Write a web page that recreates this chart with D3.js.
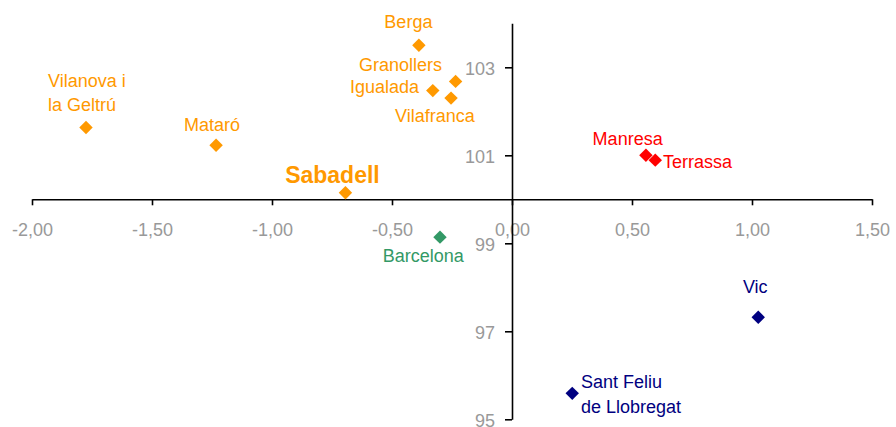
<!DOCTYPE html>
<html>
<head>
<meta charset="utf-8">
<script src="https://cdn.jsdelivr.net/npm/d3@7"></script>
<style>
  body { margin: 0; background: #fff; }
  svg { font-family: "Liberation Sans", Arial, sans-serif; }
</style>
</head>
<body>
<svg id="chart" width="896" height="427"></svg>
<script>
// values
var cities = ['Berga', 'Granollers', 'Igualada', 'Vilafranca', 'Vilanova i la Geltrú', 'Mataró', 'Sabadell',
    'Manresa', 'Terrassa', 'Barcelona', 'Vic', 'Sant Feliu de Llobregat'];
var xVals = [-0.388, -0.235, -0.330, -0.254, -1.775, -1.233, -0.694, 0.558, 0.597, -0.300, 1.026, 0.251];
var yVals = [103.50, 102.68, 102.47, 102.30, 101.63, 101.23, 100.15, 101.00, 100.89, 99.14, 97.32, 95.59];
var groups = ['a', 'a', 'a', 'a', 'a', 'a', 'a', 'b', 'b', 'c', 'd', 'd'];
var xTicks = [-2, -1.5, -1, -0.5, 0, 0.5, 1, 1.5];
var yTicks = [95, 97, 99, 101, 103];

var svg = d3.select('#chart');

var x = d3.scaleLinear().domain([-2, 1.5]).range([32, 872]);
var y = d3.scaleLinear().domain([95, 104]).range([419.3, 23.3]);

var color = d3.scaleOrdinal()
    .domain(['a', 'b', 'c', 'd'])
    .range(['#ff9900', '#ff0000', '#339966', '#000080']);

// label placement relative to each marker: [dx, dy, anchor, lines...]
var labelPos = {
    'Berga': [-10.5, -17, 'middle', ['Berga']],
    'Granollers': [-13.7, -10.6, 'end', ['Granollers']],
    'Igualada': [-13.7, 2.3, 'end', ['Igualada']],
    'Vilafranca': [-56, 24, 'start', ['Vilafranca']],
    'Vilanova i la Geltrú': [-38, -40.7, 'start', ['Vilanova i', 'la Geltrú']],
    'Mataró': [-32, -14.3, 'start', ['Mataró']],
    'Sabadell': [-60.3, -10, 'start', ['Sabadell']],
    'Manresa': [-53.3, -10.7, 'start', ['Manresa']],
    'Terrassa': [7.7, 8, 'start', ['Terrassa']],
    'Barcelona': [-57.3, 24.4, 'start', ['Barcelona']],
    'Vic': [-15.3, -24.3, 'start', ['Vic']],
    'Sant Feliu de Llobregat': [8.7, -5, 'start', ['Sant Feliu', 'de Llobregat']]
};

function fmt(d) {
    // plain hyphen and decimal comma, like the original
    return d.toFixed(2).replace('.', ',');
}

// x axis
var gx = svg.append('g')
    .attr('transform', 'translate(0,' + y(100) + ')')
    .call(d3.axisBottom(x).tickValues(xTicks).tickFormat(fmt).tickSize(6).tickSizeOuter(0).tickPadding(18));
gx.selectAll('text').attr('fill', '#999').style('font-size', '18px');
gx.selectAll('line').attr('stroke', '#000').attr('stroke-width', 1.6);
gx.select('.domain').attr('stroke', '#000').attr('stroke-width', 1.6);

// y axis
var gy = svg.append('g')
    .attr('transform', 'translate(' + x(0) + ',0)')
    .call(d3.axisLeft(y).tickValues(yTicks).tickFormat(d3.format('d')).tickSize(7).tickSizeOuter(0).tickPadding(10));
gy.selectAll('text').attr('fill', '#999').style('font-size', '18px').attr('dy', '0.42em');
gy.selectAll('line').attr('stroke', '#000').attr('stroke-width', 1.6);
gy.select('.domain').attr('stroke', '#000').attr('stroke-width', 1.6);

var diamond = d3.symbol().type(d3.symbolSquare).size(90);

var pts = svg.append('g').selectAll('g')
    .data(cities)
    .enter()
    .append('g')
    .attr('transform', function(d, i) {
        return 'translate(' + x(xVals[i]) + ',' + y(yVals[i]) + ')';
    });

pts.append('path')
    .attr('d', diamond)
    .attr('transform', 'rotate(45)')
    .attr('fill', function(d, i) { return color(groups[i]); });

pts.each(function(d, i) {
    var p = labelPos[d];
    var big = d === 'Sabadell';
    var t = d3.select(this).append('text')
        .attr('x', p[0])
        .attr('y', p[1])
        .attr('text-anchor', p[2])
        .attr('fill', color(groups[i]))
        .style('font-size', big ? '23px' : '18px')
        .style('font-weight', big ? 'bold' : 'normal');
    p[3].forEach(function(line, k) {
        t.append('tspan')
            .attr('x', p[0])
            .attr('dy', k === 0 ? 0 : 24.5)
            .text(line);
    });
});
</script>
</body>
</html>
